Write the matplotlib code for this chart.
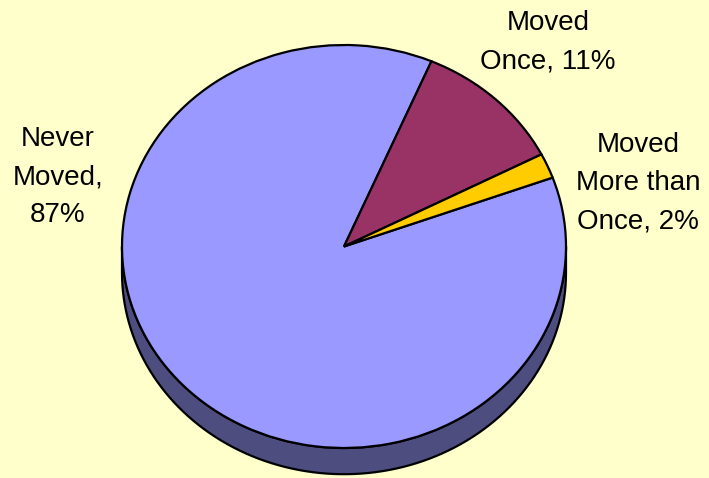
import matplotlib.pyplot as plt
import matplotlib.colors as mcolors
import numpy as np

# data
labels = ["Never\nMoved,\n87%", "Moved\nOnce, 11%", "Moved\nMore than\nOnce, 2%"]
values = [87, 11, 2]
colors = ["#9999FF", "#993366", "#FFCC00"]

# label centres in pixels of the 709x478 image
label_px = [(58, 177), (548, 42), (638, 183)]

W, H = 709, 478
bg = "#FFFFCC"
depth = 0.13  # thickness of the pie, in radius units

fig = plt.figure(figsize=(W / 100, H / 100), dpi=100, facecolor=bg)
ax = fig.add_axes([0, 0, 1, 1])
ax.set_facecolor(bg)

wedges, _ = ax.pie(values, colors=colors, startangle=20, counterclock=False,
                   wedgeprops=dict(edgecolor="black", linewidth=1.6))

# side of the pie: darker band under the front half
for w in wedges:
    dark = np.array(mcolors.to_rgb(w.get_facecolor())) * 0.5
    for k in (-1, 0, 1):
        a = max(w.theta1 + 360 * k, 180)
        b = min(w.theta2 + 360 * k, 360)
        if b <= a:
            continue
        t = np.radians(np.linspace(a, b, 100))
        xs = np.concatenate([np.cos(t), np.cos(t[::-1])])
        ys = np.concatenate([np.sin(t), np.sin(t[::-1]) - depth])
        ax.fill(xs, ys, color=dark, ec="black", lw=1.6, zorder=0.5)

# stretch the unit circle into the ellipse of the picture
rx, ry = 222, 201.5
cx, cy = 344, 246.5
ax.set_aspect("auto")
ax.set_xlim(-cx / rx, (W - cx) / rx)
ax.set_ylim((cy - H) / ry, cy / ry)
ax.axis("off")

for text, (px, py) in zip(labels, label_px):
    ax.text(px / W, 1 - py / H, text, transform=ax.transAxes, ha="center",
            va="center", fontsize=20, family="Liberation Sans",
            linespacing=1.6)

fig.savefig("out.png", dpi=100, facecolor=bg)
